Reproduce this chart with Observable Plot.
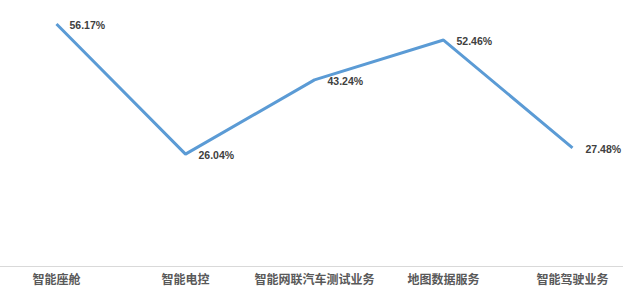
<!DOCTYPE html>
<html>
<head>
<meta charset="utf-8">
<script src="https://cdn.jsdelivr.net/npm/d3@7"></script>
<script src="https://cdn.jsdelivr.net/npm/@observablehq/plot@0.6"></script>
<style>
  html, body { margin: 0; padding: 0; background: #ffffff; }
  #chart { width: 627px; height: 294px; }
</style>
</head>
<body>
<div id="chart"></div>
<script>
const categories = ["智能座舱", "智能电控", "智能网联汽车测试业务", "地图数据服务", "智能驾驶业务"];
const shares = [56.17, 26.04, 43.24, 52.46, 27.48];
const labels = ["56.17%", "26.04%", "43.24%", "52.46%", "27.48%"];

const data = categories.map((c, i) => ({category: c, value: shares[i], label: labels[i]}));

const chart = Plot.plot({
  width: 627,
  height: 294,
  marginLeft: 0,
  marginRight: 4,
  marginTop: 7,
  marginBottom: 28,
  style: {background: "#ffffff", overflow: "visible"},
  x: {type: "point", domain: categories, padding: 0.394, insetLeft: 4, label: null},
  y: {domain: [0, 60], axis: null},
  marks: [
    Plot.ruleY([0], {stroke: "#d9d9d9", strokeWidth: 1.2}),
    Plot.axisX({
      tickSize: 0,
      tickPadding: 9,
      fontSize: 12,
      fontWeight: "bold",
      fontFamily: "'Noto Sans CJK SC', sans-serif",
      fill: "#595959",
      label: null
    }),
    Plot.line(data, {x: "category", y: "value", stroke: "#5b9bd5", strokeWidth: 3, strokeLinejoin: "miter", strokeLinecap: "butt"}),
    Plot.text(data, {
      x: "category", y: "value", text: "label",
      textAnchor: "start", dx: 13, dy: 2,
      fontSize: 10.5, fontWeight: "bold",
      fontFamily: "'Liberation Sans', 'DejaVu Sans', sans-serif",
      fill: "#404040"
    })
  ]
});
document.getElementById("chart").appendChild(chart);
</script>
</body>
</html>
